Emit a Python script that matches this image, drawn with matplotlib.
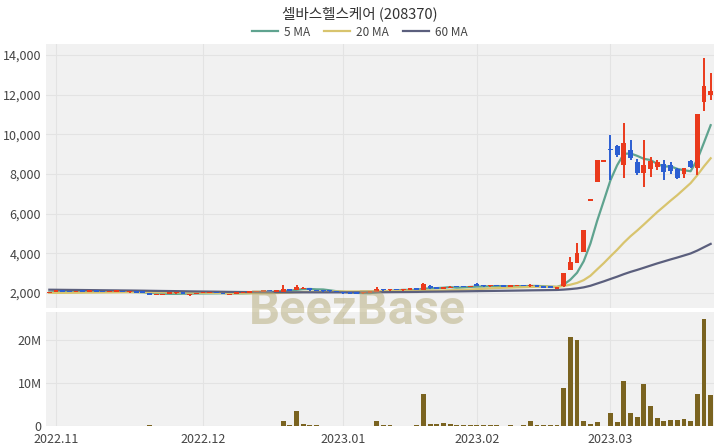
import matplotlib
matplotlib.use("Agg")
import matplotlib.pyplot as plt
import matplotlib.ticker as mticker
from matplotlib.lines import Line2D
import numpy as np
import pandas as pd

plt.rcParams['font.family'] = ['Noto Sans CJK KR', 'DejaVu Sans']

title = "셀바스헬스케어 (208370)"

# trading days (KRX) 2022-10-31 .. 2023-03-23
holidays = ["2022-12-30", "2023-01-23", "2023-01-24", "2023-03-01"]
dates = pd.bdate_range("2022-10-31", "2023-03-23")
dates = dates[~dates.isin(pd.to_datetime(holidays))]

opens = [2000, 2060, 2080, 2060, 2050, 2070, 2060, 2080, 2070, 2050,
         2060, 2070, 2040, 2050, 2020, 1990, 1890, 1900, 1960, 1990,
         2000, 1880, 1950, 1990, 2000, 2010, 1990, 1900, 1960, 2000,
         2020, 2040, 2060, 2100, 2070, 2050, 2200, 2150, 2200, 2250,
         2150, 2100, 2090, 2080, 2040, 1990, 1980, 1980, 2020, 2050,
         2150, 2140, 2160, 2150, 2160, 2170, 2170, 2350, 2260, 2220,
         2250, 2340, 2320, 2300, 2460, 2360, 2340, 2370, 2340, 2320,
         2340, 2370, 2330, 2380, 2330, 2270, 2220, 2350, 3160, 3510,
         4070, 6650, 7600, 8630, 9260, 9410, 8450, 9210, 8610, 8050,
         8250, 8350, 8500, 8450, 8250, 8000, 8650, 8300, 11630, 11990]
highs = [2060, 2100, 2100, 2080, 2090, 2090, 2100, 2110, 2090, 2080,
         2090, 2080, 2070, 2060, 2040, 2000, 1950, 1950, 2000, 2010,
         2010, 1940, 2000, 2020, 2030, 2020, 2000, 1960, 2010, 2030,
         2050, 2070, 2100, 2130, 2110, 2400, 2220, 2400, 2300, 2270,
         2160, 2120, 2110, 2090, 2050, 2000, 2000, 2030, 2060, 2300,
         2180, 2170, 2180, 2170, 2180, 2190, 2520, 2380, 2300, 2290,
         2350, 2360, 2340, 2360, 2500, 2400, 2380, 2390, 2360, 2350,
         2380, 2390, 2450, 2390, 2340, 2290, 2280, 3010, 3815, 4520,
         5180, 6700, 8700, 8680, 9970, 9450, 10570, 9720, 8760, 9720,
         8860, 8700, 8700, 8600, 8300, 8300, 8700, 11030, 13850, 13100]
lows = [1990, 2040, 2050, 2040, 2040, 2050, 2050, 2060, 2040, 2030,
        2040, 2030, 2020, 2010, 2000, 1900, 1880, 1880, 1950, 1970,
        1960, 1870, 1940, 1980, 1980, 1980, 1940, 1890, 1950, 1990,
        2010, 2030, 2050, 2060, 2060, 2040, 2100, 2140, 2180, 2120,
        2080, 2070, 2060, 2030, 1960, 1940, 1950, 1970, 2000, 2040,
        2120, 2120, 2130, 2120, 2140, 2140, 2160, 2200, 2200, 2210,
        2240, 2280, 2280, 2290, 2340, 2320, 2320, 2330, 2300, 2300,
        2330, 2340, 2320, 2300, 2240, 2240, 2210, 2300, 3160, 3510,
        4070, 6650, 7600, 8620, 7700, 8860, 7800, 8700, 7950, 7350,
        7850, 8200, 7700, 8000, 7750, 7800, 8300, 7950, 11180, 11730]
closes = [2050, 2080, 2060, 2050, 2070, 2060, 2080, 2070, 2050, 2060,
          2070, 2040, 2050, 2020, 2010, 1920, 1940, 1930, 1990, 2000,
          1970, 1930, 1990, 2000, 2010, 1990, 1950, 1950, 2000, 2020,
          2040, 2060, 2090, 2070, 2100, 2200, 2120, 2300, 2250, 2150,
          2100, 2090, 2080, 2040, 1980, 1960, 1970, 2020, 2040, 2180,
          2140, 2160, 2150, 2160, 2170, 2160, 2450, 2230, 2220, 2270,
          2320, 2300, 2300, 2340, 2360, 2340, 2370, 2340, 2320, 2340,
          2370, 2350, 2400, 2320, 2270, 2260, 2260, 3010, 3560, 4020,
          5180, 6690, 8700, 8660, 9200, 8960, 9560, 8810, 8050, 8450,
          8650, 8600, 8100, 8150, 7800, 8300, 8350, 11030, 12440, 12190]
# volume in millions of shares
volumes = [0.10, 0.08, 0.06, 0.07, 0.05, 0.06, 0.08, 0.07, 0.05, 0.06,
           0.05, 0.06, 0.05, 0.07, 0.06, 0.12, 0.10, 0.08, 0.06, 0.05,
           0.05, 0.09, 0.06, 0.05, 0.05, 0.06, 0.08, 0.07, 0.05, 0.06,
           0.06, 0.07, 0.10, 0.08, 0.09, 1.20, 0.20, 3.60, 0.35, 0.25,
           0.15, 0.10, 0.08, 0.07, 0.10, 0.08, 0.07, 0.08, 0.10, 1.20,
           0.20, 0.12, 0.10, 0.08, 0.10, 0.12, 7.40, 0.50, 0.40, 0.60,
           0.50, 0.30, 0.20, 0.20, 0.25, 0.15, 0.12, 0.15, 0.10, 0.12,
           0.10, 0.15, 1.20, 0.20, 0.25, 0.15, 0.20, 8.90, 20.7, 20.0,
           1.20, 0.50, 1.00, 0.10, 3.00, 1.00, 10.5, 3.00, 2.20, 9.80,
           4.70, 1.80, 1.20, 1.40, 1.40, 1.70, 1.20, 7.40, 24.9, 7.10]
# closes before the window, needed for the moving averages
prior_closes = [2260, 2280, 2250, 2240, 2270, 2290, 2300, 2280, 2260, 2250,
                2240, 2230, 2250, 2270, 2260, 2240, 2230, 2220, 2250, 2260,
                2280, 2270, 2250, 2240, 2230, 2250, 2260, 2240, 2220, 2230,
                2250, 2240, 2230, 2220, 2210, 2230, 2240, 2220, 2200, 2180,
                2100, 2050, 2020, 2000, 1980, 1970, 1990, 2000, 1980, 1960,
                1970, 1990, 2000, 1990, 1980, 2000, 2020, 2040, 2050]

ma_windows = [5, 20, 60]
ma_colors = ['#5fa38f', '#d8c46e', '#5b5f7d']
up_color = '#ea3a1c'
down_color = '#2c5fd2'
vol_color = '#7a6320'
bg = '#f1f1f1'
grid_c = '#e3e3e3'

n = len(closes)
x = np.arange(n)
o = np.array(opens); h = np.array(highs); l = np.array(lows); c = np.array(closes)
all_close = pd.Series(prior_closes + closes)

fig = plt.figure(figsize=(7.2, 4.48), dpi=100)
ax = fig.add_axes([46 / 720, 1 - 308 / 448, 668 / 720, 264 / 448])
axv = fig.add_axes([46 / 720, 1 - 426 / 448, 668 / 720, 114 / 448], sharex=ax)

for a in (ax, axv):
    a.set_facecolor(bg)
    for s in a.spines.values():
        s.set_visible(False)
    a.grid(True, color=grid_c, linewidth=0.8)
    a.set_axisbelow(True)
    a.tick_params(length=0, labelsize=9, colors='#444444')

for w, col in zip(ma_windows, ma_colors):
    ma = all_close.rolling(w).mean().values[-n:]
    ax.plot(x, ma, color=col, linewidth=1.6, zorder=3)

up = c >= o
colors = np.where(up, up_color, down_color)
body_h = np.maximum(np.abs(c - o), 70)
ax.vlines(x, l, h, color=colors, linewidth=1.4, zorder=4)
ax.bar(x, body_h, bottom=np.minimum(o, c), width=0.72, color=colors, zorder=4)

ax.set_ylim(1244, 14555)
ax.set_yticks([2000, 4000, 6000, 8000, 10000, 12000, 14000])
ax.yaxis.set_major_formatter(mticker.FuncFormatter(lambda v, p: f"{v:,.0f}"))
ax.tick_params(labelbottom=False)

axv.bar(x, volumes, width=0.72, color=vol_color, zorder=3)
axv.set_ylim(0, 26.5)
axv.set_yticks([0, 10, 20])
axv.yaxis.set_major_formatter(mticker.FuncFormatter(lambda v, p: "0" if v == 0 else f"{v:.0f}M"))

months = pd.Series(dates.to_period("M"))
tick_idx = [i for i in range(n) if i > 0 and months[i] != months[i - 1]]
axv.set_xticks(tick_idx)
axv.set_xticklabels([dates[i].strftime("%Y.%m") for i in tick_idx])
axv.tick_params(axis='x', pad=5)
axv.tick_params(axis='y', pad=3)
axv.set_xlim(-0.5, n - 0.5)

fig.text(0.5, 1 - 14 / 448, title, ha='center', va='center', fontsize=10.5, color='#333333')
handles = [Line2D([0], [0], color=col, linewidth=1.6) for col in ma_colors]
fig.legend(handles, [f"{w} MA" for w in ma_windows], loc='center', ncol=3,
           bbox_to_anchor=(0.5, 1 - 32 / 448), frameon=False, fontsize=8.5,
           handlelength=2.2, columnspacing=1.2, handletextpad=0.5, labelcolor='#444444')

fig.text(0.497, 1 - 311 / 448, "BeezBase", ha='center', va='center', fontsize=35,
         fontweight='bold', family='Roboto', color='#b5aa78', alpha=0.5, zorder=10)

fig.savefig("out.png", dpi=100)
